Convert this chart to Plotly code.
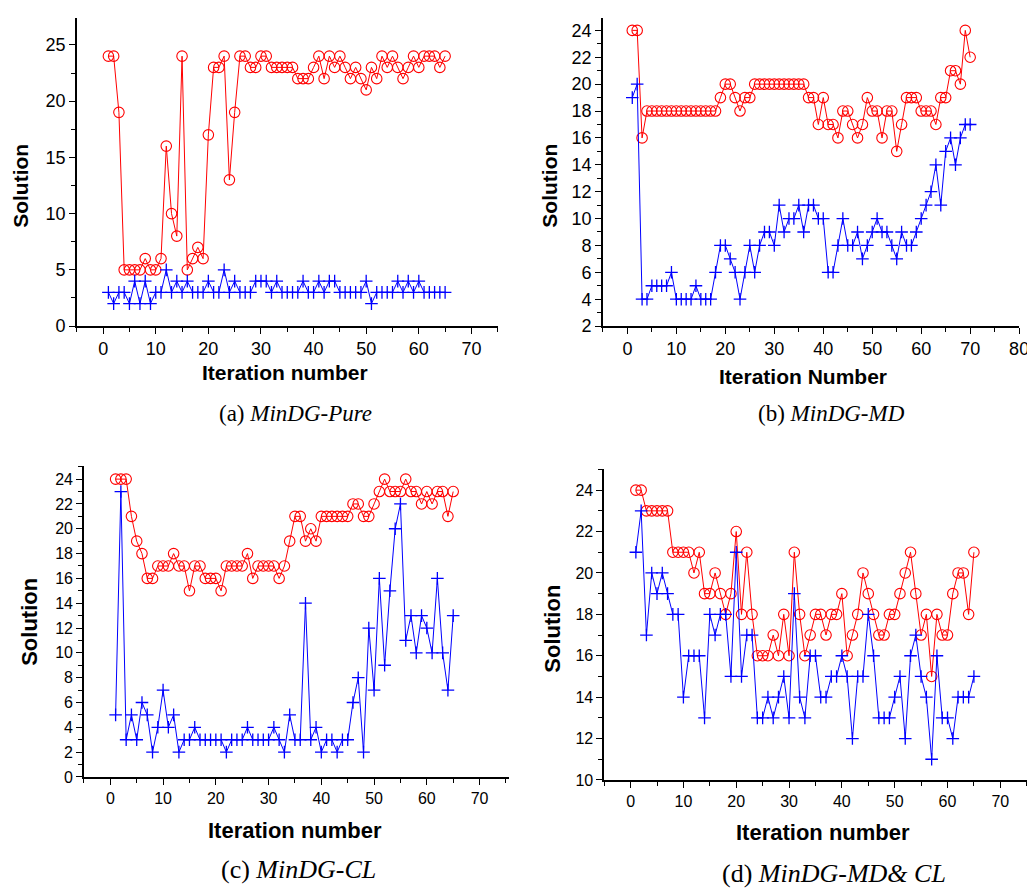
import plotly.graph_objects as go

# ---------------- data ----------------
iters_a = list(range(1, 66))
red_a = [24, 24, 19, 5, 5, 5, 5, 6, 5, 5,
         6, 16, 10, 8, 24, 5, 6, 7, 6, 17,
         23, 23, 24, 13, 19, 24, 24, 23, 23, 24,
         24, 23, 23, 23, 23, 23, 22, 22, 22, 23,
         24, 22, 24, 23, 24, 23, 22, 23, 22, 21,
         23, 22, 24, 23, 24, 23, 22, 23, 24, 23,
         24, 24, 24, 23, 24]
blue_a = [3, 2, 3, 3, 2, 4, 2, 4, 2, 3,
          3, 5, 3, 4, 3, 4, 3, 3, 3, 4,
          3, 3, 5, 3, 4, 3, 3, 3, 4, 4,
          4, 3, 4, 3, 3, 3, 3, 4, 3, 3,
          4, 3, 4, 4, 3, 3, 3, 3, 3, 4,
          2, 3, 3, 3, 3, 4, 3, 4, 3, 4,
          3, 3, 3, 3, 3]

iters_b = list(range(1, 71))
red_b = [24, 24, 16, 18, 18, 18, 18, 18, 18, 18,
         18, 18, 18, 18, 18, 18, 18, 18, 19, 20,
         20, 19, 18, 19, 19, 20, 20, 20, 20, 20,
         20, 20, 20, 20, 20, 20, 19, 19, 17, 19,
         17, 17, 16, 18, 18, 17, 16, 17, 19, 18,
         18, 16, 18, 18, 15, 17, 19, 19, 19, 18,
         18, 18, 17, 19, 19, 21, 21, 20, 24, 22]
blue_b = [19, 20, 4, 4, 5, 5, 5, 5, 6, 4,
          4, 4, 4, 5, 4, 4, 4, 6, 8, 8,
          7, 6, 4, 6, 8, 6, 8, 9, 9, 8,
          11, 9, 10, 10, 11, 9, 11, 11, 10, 10,
          6, 6, 8, 10, 8, 8, 9, 7, 8, 9,
          10, 9, 9, 8, 7, 9, 8, 8, 9, 10,
          11, 12, 14, 11, 15, 16, 14, 16, 17, 17]

iters_c = list(range(1, 66))
red_c = [24, 24, 24, 21, 19, 18, 16, 16, 17, 17,
         17, 18, 17, 17, 15, 17, 17, 16, 16, 16,
         15, 17, 17, 17, 17, 18, 16, 17, 17, 17,
         17, 16, 17, 19, 21, 21, 19, 20, 19, 21,
         21, 21, 21, 21, 21, 22, 22, 21, 21, 22,
         23, 24, 23, 23, 23, 24, 23, 23, 22, 23,
         22, 23, 23, 21, 23]
blue_c = [5, 23, 3, 5, 3, 6, 5, 2, 4, 7,
          4, 5, 2, 3, 3, 4, 3, 3, 3, 3,
          3, 2, 3, 3, 3, 4, 3, 3, 3, 3,
          4, 3, 2, 5, 3, 3, 14, 3, 4, 2,
          3, 3, 2, 3, 3, 6, 8, 2, 12, 7,
          16, 9, 15, 20, 22, 11, 13, 10, 13, 12,
          10, 16, 10, 7, 13]

iters_d = list(range(1, 66))
red_d = [24, 24, 23, 23, 23, 23, 23, 21, 21, 21,
         21, 20, 21, 19, 19, 20, 19, 18, 19, 22,
         18, 21, 18, 16, 16, 16, 17, 16, 18, 16,
         21, 18, 16, 17, 18, 18, 17, 18, 18, 19,
         16, 17, 18, 20, 19, 18, 17, 17, 18, 18,
         19, 20, 21, 19, 17, 18, 15, 18, 17, 17,
         19, 20, 20, 18, 21]
blue_d = [21, 23, 17, 20, 19, 20, 19, 18, 18, 14,
          16, 16, 16, 13, 18, 17, 18, 18, 15, 21,
          15, 17, 17, 13, 13, 14, 13, 14, 15, 13,
          19, 14, 13, 16, 16, 14, 14, 15, 15, 16,
          15, 12, 15, 15, 18, 16, 13, 13, 13, 14,
          15, 12, 16, 17, 15, 14, 11, 16, 13, 13,
          12, 14, 14, 14, 15]

panels = [
    dict(x=iters_a, red=red_a, blue=blue_a),
    dict(x=iters_b, red=red_b, blue=blue_b),
    dict(x=iters_c, red=red_c, blue=blue_c),
    dict(x=iters_d, red=red_d, blue=blue_d),
]

W, H = 1035, 890


def fx(p):
    return p / W


def fy(p):
    return 1 - p / H


# plot-area boxes in pixels: (left, right, top, bottom)
boxes = [(69.5, 494.5, 10, 321.7),
         (600.7, 1021, 10, 321.7),
         (76.7, 506, 463.3, 777.7),
         (602, 1034, 466.7, 780.7)]
yranges = [[0, 27.4], [2, 24.93], [0, 25.05], [10, 25.0]]
xranges = [[-5, 75], [-5, 80], [-5, 75.6], [-5, 76]]
ydt = [5, 2, 2, 2]
ymin = [2.5, 1, 1, 1]

fig = go.Figure()
RED = "#ff0000"
BLUE = "#0000ff"

for i, p in enumerate(panels):
    n = "" if i == 0 else str(i + 1)
    fig.add_trace(go.Scatter(
        x=p["x"], y=p["red"], mode="lines+markers", xaxis="x" + n, yaxis="y" + n,
        line=dict(color=RED, width=1),
        marker=dict(symbol="circle-open", size=10.5, color=RED, line=dict(width=1.1, color=RED)),
        showlegend=False))
    fig.add_trace(go.Scatter(
        x=p["x"], y=p["blue"], mode="lines+markers", xaxis="x" + n, yaxis="y" + n,
        line=dict(color=BLUE, width=1),
        marker=dict(symbol="cross-thin", size=9, color=BLUE, line=dict(width=1.3, color=BLUE)),
        showlegend=False))

FAM = "Liberation Sans, Arial, sans-serif"
top_font = dict(family=FAM, size=18, color="black")
bot_font = dict(family=FAM, size=16, color="black")

layout = dict(width=W, height=H, margin=dict(l=0, r=0, t=0, b=0),
              paper_bgcolor="white", plot_bgcolor="white")

for i in range(4):
    n = "" if i == 0 else str(i + 1)
    L, R, T, B = boxes[i]
    tf = top_font if i < 2 else bot_font
    common = dict(showline=True, linecolor="black", linewidth=1.6, mirror=False,
                  showgrid=False, zeroline=False, ticks="outside", ticklen=6,
                  tickwidth=1.4, tickcolor="black", tickfont=tf)
    layout["xaxis" + n] = dict(common, domain=[fx(L), fx(R)], range=xranges[i],
                               anchor="y" + n, tick0=0, dtick=10,
                               minor=dict(ticks="outside", dtick=5, ticklen=4,
                                          tickwidth=1.2, tickcolor="black"))
    layout["yaxis" + n] = dict(common, domain=[fy(B), fy(T)], range=yranges[i],
                               anchor="x" + n, tick0=0, dtick=ydt[i],
                               minor=dict(ticks="outside", dtick=ymin[i], ticklen=4,
                                          tickwidth=1.2, tickcolor="black"))

fig.update_layout(**layout)

title_font_top = dict(family=FAM, size=21, color="black")
title_font_bot = dict(family=FAM, size=22, color="black")
cap_font_top = dict(family="Liberation Serif, Times New Roman, serif", size=23, color="black")
cap_font_bot = dict(family="Liberation Serif, Times New Roman, serif", size=26, color="black")

ytitles = [(13, 180), (547, 180), (21, 621), (550, 628)]
xtitles = [(280, 369, "Iteration number"), (803, 373, "Iteration Number"),
           (290, 832, "Iteration number"), (823, 834, "Iteration number")]
captions = [(290, 410, "(a) <i>MinDG-Pure</i>"), (832, 410, "(b) <i>MinDG-MD</i>"),
            (293, 871, "(c) <i>MinDG-CL</i>"), (834, 875, "(d) <i>MinDG-MD&amp; CL</i>")]

ann = []
for i in range(4):
    f = title_font_top if i < 2 else title_font_bot
    cf = cap_font_top if i < 2 else cap_font_bot
    x, y = ytitles[i]
    ann.append(dict(x=fx(x), y=fy(y), xref="paper", yref="paper", text="<b>Solution</b>",
                    textangle=-90, showarrow=False, font=f, xanchor="center", yanchor="middle"))
    x, y, t = xtitles[i]
    ann.append(dict(x=fx(x), y=fy(y), xref="paper", yref="paper", text="<b>" + t + "</b>",
                    showarrow=False, font=f, xanchor="center", yanchor="middle"))
    x, y, t = captions[i]
    ann.append(dict(x=fx(x), y=fy(y), xref="paper", yref="paper", text=t,
                    showarrow=False, font=cf, xanchor="center", yanchor="middle"))

fig.update_layout(annotations=ann)
fig.write_html("out.html")
